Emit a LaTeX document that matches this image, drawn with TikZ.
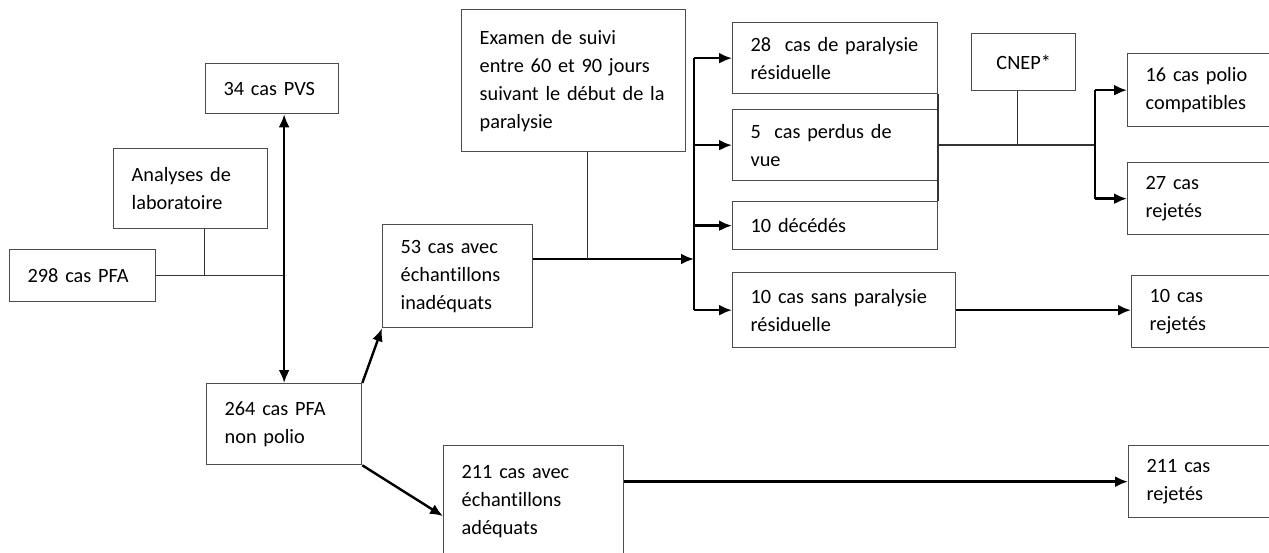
\documentclass[tikz,border=0pt]{standalone}
\usepackage{fontspec}
\setmainfont{Carlito}[Ligatures=NoCommon]
\usetikzlibrary{arrows.meta}

\tikzset{box/.style={draw=black!70,line width=1.3pt,rectangle,anchor=north west,
		align=left,inner xsep=18pt,inner ysep=0pt,font=\fontsize{20.3}{28}\selectfont}
}
\tikzstyle{flow}=[line width=2.4pt,>={Latex[length=13pt,width=11pt]},->]
\tikzstyle{link}=[line width=1.4pt,draw=black!80]

\begin{document}
\begin{tikzpicture}[x=1pt,y=-1pt]
	\useasboundingbox (0,0) rectangle (1269,552);
	\clip (0,0) rectangle (1269,552);

	% left part
	\node (pfa)[box,text width=110pt,minimum height=52pt]       at (9,249)   {298 cas PFA};
	\node (labo)[box,text width=118pt,minimum height=80pt]      at (113,148) {Analyses de\\laboratoire};
	\node (pvs)[box,text width=97pt,minimum height=50pt]        at (205,63)  {34 cas PVS};
	\node (nonpolio)[box,text width=119pt,minimum height=81pt]  at (206,383) {264 cas PFA\\non polio};
	\node (inad)[box,text width=114pt,minimum height=103pt]     at (382,224) {53 cas avec\\échantillons\\inadéquats};
	\node (adeq)[box,text width=144pt,minimum height=111pt]     at (443,445) {211 cas avec\\échantillons\\adéquats};

	% follow-up
	\node (examen)[box,text width=188pt,minimum height=142pt]   at (461,9)   {Examen de suivi\\entre 60 et 90 jours\\suivant le début de la\\paralysie};
	\node (res)[box,text width=169pt,minimum height=71pt]       at (732,22)  {28~ cas de paralysie\\résiduelle};
	\node (perdus)[box,text width=169pt,minimum height=71pt]    at (732,109) {5~ cas perdus de\\vue};
	\node (deces)[box,text width=169pt,minimum height=48pt]     at (732,201) {10 décédés};
	\node (sans)[box,text width=187pt,minimum height=75pt]      at (732,272) {10 cas sans paralysie\\résiduelle};

	% outcome
	\node (cnep)[box,align=center,text width=68pt,minimum height=57pt] at (971,33) {CNEP*};
	\node (compat)[box,text width=144pt,minimum height=73pt]    at (1127,53)  {16 cas polio\\compatibles};
	\node (rej27)[box,text width=144pt,minimum height=72pt]     at (1127,162) {27 cas\\rejetés};
	\node (rej10)[box,text width=144pt,minimum height=72pt]     at (1131,275) {10 cas\\rejetés};
	\node (rej211)[box,text width=144pt,minimum height=72pt]    at (1128,445) {211 cas\\rejetés};

	\coordinate (fork) at (694,259);
	\coordinate (split) at (1095,149);

	\draw[link] (pfa.east) -- (nonpolio.north |- pfa.east);
	\draw[link] ([xshift=14pt]labo.south) -- ([xshift=14pt]labo.south |- pfa.east);
	\draw[flow,<->] (nonpolio.north |- pvs.south) -- (nonpolio.north);
	\draw[flow] (nonpolio.north east) -- (inad.south west);
	\draw[flow] (nonpolio.south east) -- ([yshift=-15pt]adeq.west);

	\draw[flow] (inad.east |- fork) -- (fork);
	\draw[link] ([xshift=14pt]examen.south) -- ([xshift=14pt]examen.south |- fork);
	\draw[line width=2.4pt] (fork |- res.west) -- (fork |- sans.west);
	\foreach \b in {res,perdus,deces,sans}{
		\draw[flow] (fork |- \b.west) -- (\b.west);
	}

	\draw[line width=1.8pt,black!80] (res.south east) -- (deces.north east);
	\draw[link] (perdus.east) -- (split |- perdus.east);
	\draw[link] ([xshift=-6pt]cnep.south) -- ([xshift=-6pt]cnep.south |- perdus.east);
	\draw[line width=2.2pt] (split |- compat.west) -- (split |- rej27.west);
	\foreach \b in {compat,rej27}{
		\draw[flow] (split |- \b.west) -- (\b.west);
	}

	\draw[flow] (sans.east) -- (sans.east -| rej10.west);
	\draw[flow] (adeq.east |- rej211.west) -- (rej211.west);
\end{tikzpicture}
\end{document}
